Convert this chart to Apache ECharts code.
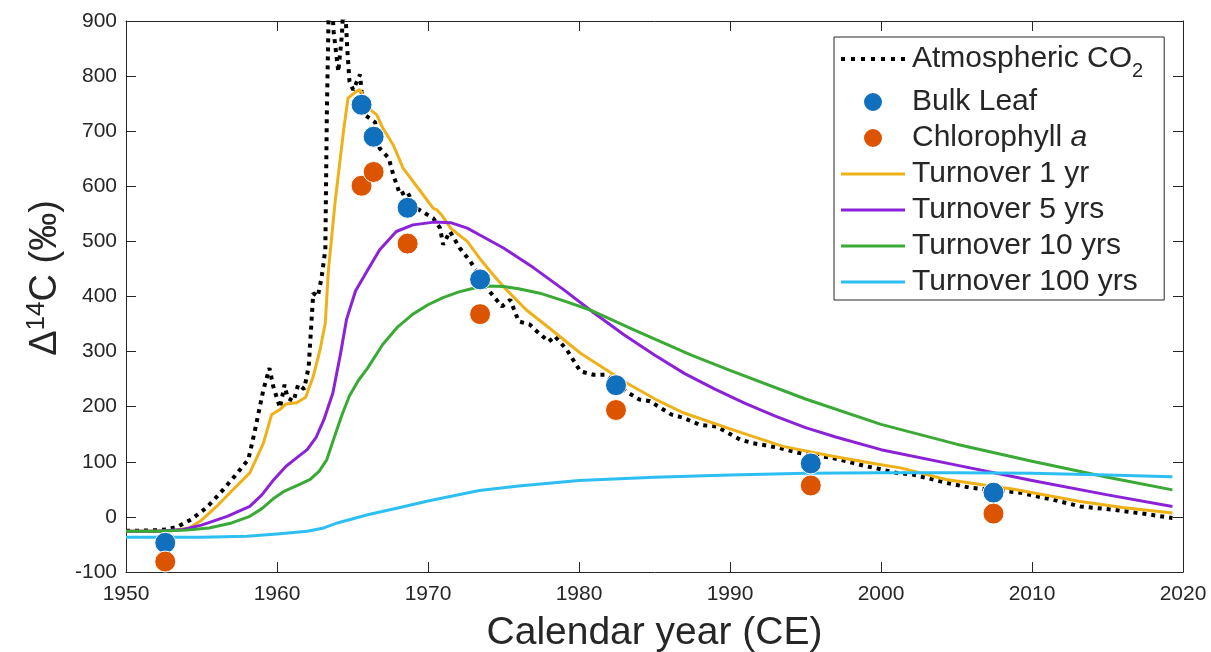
<!DOCTYPE html>
<html>
<head>
<meta charset="utf-8">
<script src="https://cdn.jsdelivr.net/npm/echarts@6/dist/echarts.min.js"></script>
<style>
  html, body { margin: 0; padding: 0; background: #fff; }
  #chart { width: 1211px; height: 652px; }
</style>
</head>
<body>
<div id="chart"></div>
<script>
// Atmospheric CO2 radiocarbon record (the bomb peak runs above the plotted range)
const co2Years = [1950.0, 1951.0, 1952.0, 1952.7, 1953.4, 1954.3, 1955.3, 1956.2, 1957.2, 1958.1,
  1958.5, 1959.1, 1959.5, 1959.75, 1960.2, 1960.5, 1960.7, 1961.1, 1961.4, 1961.8,
  1962.1, 1962.4, 1962.7, 1962.95, 1963.2, 1963.3, 1963.45, 1963.6, 1963.75, 1964.06,
  1964.3, 1964.45, 1964.55, 1964.65, 1964.8, 1965.05, 1965.5, 1965.6, 1965.8, 1966.5,
  1966.8, 1967.4, 1967.7, 1968.15, 1968.6, 1969.2, 1970.35, 1970.8, 1971.0, 1971.45,
  1972.1, 1972.8, 1973.9, 1974.9, 1975.45, 1976.0, 1976.75, 1977.2, 1978.0, 1978.4,
  1979.2, 1980.1, 1980.95, 1981.8, 1983.1, 1984.0, 1984.7, 1986.1, 1986.9, 1988.0,
  1989.1, 1990.7, 1991.5, 1993.3, 1994.6, 1996.8, 1999.0, 1999.9, 2001.0, 2002.1,
  2004.3, 2005.9, 2009.2, 2011.4, 2013.2, 2015.4, 2017.6, 2019.3];
const co2Values = [-25, -25, -24, -23, -18, -5, 16, 42, 74, 104,
  152, 231, 270, 237, 198, 240, 216, 210, 240, 232,
  273, 406, 400, 434, 485, 730, 960, 960, 881, 808,
  875, 960, 960, 851, 790, 775, 803, 772, 730, 716,
  669, 651, 621, 585, 591, 561, 542, 524, 494, 518,
  488, 464, 415, 382, 394, 355, 349, 337, 318, 328,
  303, 264, 258, 258, 228, 213, 210, 186, 180, 167,
  164, 140, 134, 125, 116, 107, 92, 87, 80, 77,
  62, 53, 44, 31, 19, 13, 5, -2];

// Measured samples
const sampleYears = [1952.6, 1965.6, 1966.4, 1968.65, 1973.45, 1982.45, 1995.35, 2007.45];
const bulkLeaf = [-47, 748, 690, 561, 431, 239, 97, 44];
const chlorophyll = [-81, 601, 626, 496, 368, 194, 57, 6];

// Modelled turnover curves
const t1Years = [1950, 1952, 1953, 1954.2, 1955, 1956, 1957, 1958.2, 1959.1, 1959.65,
  1960.2, 1960.6, 1961.3, 1961.9, 1962.4, 1962.85, 1963.2, 1963.4, 1963.85, 1964.4,
  1964.7, 1965.2, 1965.45, 1965.6, 1965.9, 1966.6, 1967.0, 1967.7, 1968.35, 1969.5,
  1970.35, 1970.6, 1970.9, 1971.5, 1971.9, 1972.6, 1973.4, 1974.3, 1975.2, 1976.5,
  1978.3, 1980.1, 1981.8, 1983.15, 1985.1, 1986.9, 1990.2, 1993.5, 1996.8, 1999.9,
  2001.3, 2004.3, 2008.8, 2013.2, 2016, 2019.3];
const t1Values = [-26, -26, -25, -20, -6, 19, 47, 80, 134, 186,
  195, 205, 207, 217, 255, 303, 352, 446, 572, 699,
  760, 771, 775, 771, 745, 730, 706, 675, 633, 591,
  560, 557, 548, 524, 515, 500, 470, 440, 412, 376,
  337, 297, 267, 243, 213, 189, 158, 128, 110, 95,
  89, 68, 50, 28, 17, 7];

const t5Years = [1950, 1952, 1953.8, 1955, 1956.7, 1958.2, 1959, 1959.8, 1960.6, 1961.3,
  1962.0, 1962.6, 1963.1, 1963.7, 1964.2, 1964.6, 1965.2, 1965.9, 1966.8, 1967.9,
  1969, 1970.4, 1971.5, 1972.6, 1973.4, 1975, 1977, 1979, 1981, 1983,
  1985, 1987, 1989, 1991, 1993, 1995, 1997, 2000, 2005, 2010,
  2015, 2019.3];
const t5Values = [-26, -26, -23, -15, 1, 19, 40, 68, 92, 107,
  122, 145, 176, 225, 295, 358, 410, 443, 485, 518,
  530, 535, 534, 524, 512, 488, 452, 412, 370, 330,
  294, 260, 232, 206, 183, 162, 145, 122, 94, 66,
  40, 19];

const t10Years = [1950, 1952, 1954, 1955.5, 1957, 1958.2, 1959, 1959.8, 1960.5, 1961.5,
  1962.2, 1962.8, 1963.3, 1963.8, 1964.3, 1964.8, 1965.4, 1966, 1967, 1968,
  1969, 1970, 1971, 1972, 1973, 1974, 1975, 1976, 1977.4, 1979,
  1980.7, 1983.6, 1987.4, 1990, 1995, 2000, 2005, 2010, 2015, 2019.3];
const t10Values = [-26, -26, -24, -20, -11, 1, 15, 34, 47, 59,
  68, 83, 104, 145, 185, 220, 248, 270, 313, 345,
  368, 385, 398, 408, 415, 419, 418, 414, 406, 392,
  376, 340, 294, 266, 214, 168, 132, 101, 72, 49];

const t100Years = [1950, 1955, 1958, 1960, 1962, 1963.1, 1964, 1966, 1968, 1970,
  1973.4, 1976, 1980, 1985, 1990, 1995, 2000, 2005, 2010, 2015, 2019.3];
const t100Values = [-37, -37, -35, -31, -26, -20, -11, 4, 16, 29,
  48, 56, 66, 72, 76, 79, 80, 80, 79, 76, 73];

// Axis ticks
const xTicks = [1950, 1960, 1970, 1980, 1990, 2000, 2010, 2020];
const yTicks = [-100, 0, 100, 200, 300, 400, 500, 600, 700, 800, 900];

const zip = (xs, ys) => xs.map((x, i) => [x, ys[i]]);

const INK = '#262626';
const FONT = '"Liberation Sans", Arial, Helvetica, sans-serif';

const colors = {
  co2: '#000000',
  bulk: '#1170BE',
  chl: '#DD5400',
  t1: '#EFB118',
  t5: '#8B22D8',
  t10: '#3AA935',
  t100: '#2DBFF2'
};

// Legend glyphs: a row of square dots and a plain stroke
const DOTTED_ICON = 'path://' + [0, 10, 20, 30, 40, 50, 60].map(x => 'M' + x + ',0h4v4h-4z').join('');
const SOLID_ICON = 'path://M0,0h64v3h-64z';

const chart = echarts.init(document.getElementById('chart'), null, { renderer: 'canvas' });

const tickText = (v) => String(v);

const baseAxisX = {
  type: 'value',
  min: xTicks[0],
  max: xTicks[xTicks.length - 1],
  interval: 10,
  splitLine: { show: false },
  axisLine: { show: true, onZero: false, lineStyle: { color: INK, width: 1 } },
  axisTick: { show: true, inside: true, length: 10, lineStyle: { color: INK, width: 1 } }
};
const baseAxisY = {
  type: 'value',
  min: yTicks[0],
  max: yTicks[yTicks.length - 1],
  interval: 100,
  splitLine: { show: false },
  axisLine: { show: true, onZero: false, lineStyle: { color: INK, width: 1 } },
  axisTick: { show: true, inside: true, length: 10, lineStyle: { color: INK, width: 1 } }
};

const lineSeries = (name, xs, ys, color, extra) => Object.assign({
  name,
  type: 'line',
  data: zip(xs, ys),
  showSymbol: false,
  symbol: 'none',
  smooth: false,
  clip: true,
  lineStyle: { color, width: 3, join: 'round' },
  itemStyle: { color },
  z: 3
}, extra || {});

const scatterSeries = (name, ys, color) => ({
  name,
  type: 'scatter',
  data: zip(sampleYears, ys),
  symbol: 'circle',
  symbolSize: 21,
  itemStyle: { color, borderColor: '#ffffff', borderWidth: 1, opacity: 1 },
  z: 10
});

const legendNames = {
  'Atmospheric CO2': '{n|Atmospheric CO}{s|2}',
  'Bulk Leaf': '{n|Bulk Leaf}',
  'Chlorophyll a': '{n|Chlorophyll }{i|a}',
  'Turnover 1 yr': '{n|Turnover 1 yr}',
  'Turnover 5 yrs': '{n|Turnover 5 yrs}',
  'Turnover 10 yrs': '{n|Turnover 10 yrs}',
  'Turnover 100 yrs': '{n|Turnover 100 yrs}'
};

const lineLegendItem = (name, icon, color) => ({
  name, icon, itemStyle: { color, borderWidth: 0, opacity: 1 }
});

const option = {
  animation: false,
  backgroundColor: '#ffffff',
  textStyle: { fontFamily: FONT, color: INK },
  grid: {
    left: 126, right: 28, top: 21, bottom: 80,
    containLabel: false,
    outerBoundsMode: 'none'
  },
  xAxis: [
    Object.assign({}, baseAxisX, {
      position: 'bottom',
      axisLabel: { color: INK, fontSize: 21, fontFamily: FONT, margin: 12, formatter: tickText },
      name: 'Calendar year (CE)',
      nameLocation: 'middle',
      nameGap: 42,
      nameTextStyle: { color: INK, fontSize: 39, fontFamily: FONT }
    }),
    Object.assign({}, baseAxisX, { position: 'top', axisLabel: { show: false } })
  ],
  yAxis: [
    Object.assign({}, baseAxisY, {
      position: 'left',
      axisLabel: { color: INK, fontSize: 21, fontFamily: FONT, margin: 9, formatter: tickText }
    }),
    Object.assign({}, baseAxisY, { position: 'right', axisLabel: { show: false } })
  ],
  legend: {
    orient: 'vertical',
    left: 834,
    top: 37,
    padding: [0, 21, 3, 7],
    itemGap: 6,
    itemWidth: 64,
    itemHeight: 20,
    borderColor: INK,
    borderWidth: 1,
    borderRadius: 0,
    backgroundColor: '#ffffff',
    selectedMode: false,
    data: [
      lineLegendItem('Atmospheric CO2', DOTTED_ICON, colors.co2),
      { name: 'Bulk Leaf' },
      { name: 'Chlorophyll a' },
      lineLegendItem('Turnover 1 yr', SOLID_ICON, colors.t1),
      lineLegendItem('Turnover 5 yrs', SOLID_ICON, colors.t5),
      lineLegendItem('Turnover 10 yrs', SOLID_ICON, colors.t10),
      lineLegendItem('Turnover 100 yrs', SOLID_ICON, colors.t100)
    ],
    formatter: (name) => legendNames[name] || name,
    textStyle: {
      color: INK,
      fontFamily: FONT,
      fontSize: 30,
      lineHeight: 30,
      rich: {
        n: { fontSize: 30, lineHeight: 30, color: INK, fontFamily: FONT, padding: [0, 0, 0, 2] },
        i: { fontSize: 30, lineHeight: 30, color: INK, fontFamily: FONT, fontStyle: 'italic' },
        s: { fontSize: 20, lineHeight: 20, color: INK, fontFamily: FONT, padding: [24, 0, 0, 0] }
      }
    }
  },
  graphic: [{
    type: 'text',
    x: 46,
    y: 278,
    rotation: Math.PI / 2,
    style: {
      text: '{m|Δ}{u|14}{m|C (‰)}',
      fill: INK,
      align: 'center',
      verticalAlign: 'middle',
      rich: {
        m: { fontSize: 38, lineHeight: 44, fontFamily: FONT, fill: INK },
        u: { fontSize: 26, lineHeight: 26, fontFamily: FONT, fill: INK, verticalAlign: 'top' }
      }
    }
  }],
  series: [
    lineSeries('Atmospheric CO2', co2Years, co2Values, colors.co2, {
      lineStyle: { color: colors.co2, width: 4, type: [4, 5], cap: 'butt' },
      z: 2
    }),
    scatterSeries('Bulk Leaf', bulkLeaf, colors.bulk),
    scatterSeries('Chlorophyll a', chlorophyll, colors.chl),
    lineSeries('Turnover 1 yr', t1Years, t1Values, colors.t1),
    lineSeries('Turnover 5 yrs', t5Years, t5Values, colors.t5),
    lineSeries('Turnover 10 yrs', t10Years, t10Values, colors.t10),
    lineSeries('Turnover 100 yrs', t100Years, t100Values, colors.t100)
  ]
};

chart.setOption(option);
</script>
</body>
</html>
